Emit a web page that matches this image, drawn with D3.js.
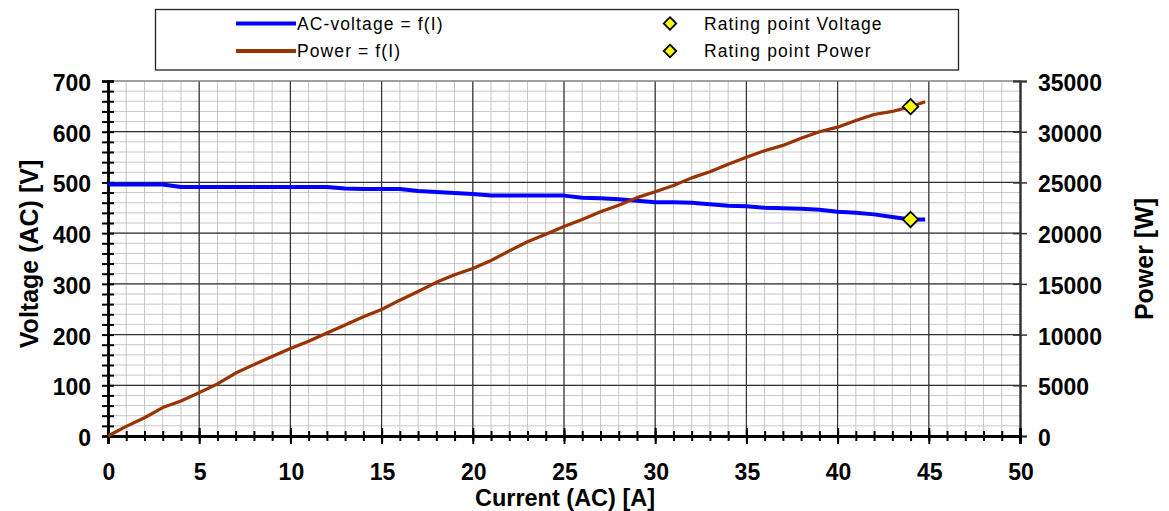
<!DOCTYPE html>
<html>
<head>
<meta charset="utf-8">
<script src="https://cdn.jsdelivr.net/npm/d3@7"></script>
<style>
  html, body { margin: 0; padding: 0; background: #fff; }
  svg { display: block; }
</style>
</head>
<body>
<svg id="chart" width="1169" height="511"></svg>
<script>
// Measured operating curve: AC current [A]
const current = [0, 1, 2, 3, 4, 5, 6, 7, 8, 9, 10, 11, 12, 13, 14, 15, 16, 17, 18, 19,
  20, 21, 22, 23, 24, 25, 26, 27, 28, 29, 30, 31, 32, 33, 34, 35, 36, 37, 38, 39,
  40, 41, 42, 43, 44, 44.8];
// AC voltage [V] at each current
const voltage = [496, 496, 496, 496, 491, 491, 491, 491, 491, 491, 491, 491, 491, 488, 487, 487,
  487, 483, 481, 479, 477, 474, 474, 474, 474, 474, 470, 469, 467, 464, 461, 461, 460, 457,
  454, 453, 450, 449, 448, 446, 442, 440, 437, 432, 427, 427];
// Output power [W] at each current
const power = [0, 950, 1800, 2800, 3450, 4280, 5130, 6210, 7040, 7830, 8620, 9350, 10150,
  10950, 11750, 12470, 13390, 14250, 15150, 15900, 16520, 17300, 18250, 19150, 19900, 20650,
  21350, 22100, 22750, 23500, 24080, 24700, 25450, 26060, 26800, 27480, 28130, 28650, 29350,
  30000, 30450, 31100, 31700, 32000, 32470, 32950];

// Rating point
const ratingCurrent = [44];
const ratingVoltage = [427];
const ratingPower = [32470];

// Axis ticks
const currentTicks = [0, 5, 10, 15, 20, 25, 30, 35, 40, 45, 50];
const voltageTicks = [0, 100, 200, 300, 400, 500, 600, 700];
const powerTicks = [0, 5000, 10000, 15000, 20000, 25000, 30000, 35000];

const legendLines = ["AC-voltage = f(I)", "Power = f(I)"];
const legendPoints = ["Rating point Voltage", "Rating point Power"];

const svg = d3.select("#chart");
const plotLeft = 108, plotRight = 1020, plotTop = 81, plotBottom = 436;

const x = d3.scaleLinear().domain([0, 50]).range([plotLeft, plotRight]);
const y = d3.scaleLinear().domain([0, 700]).range([plotBottom, plotTop]);
const y2 = d3.scaleLinear().domain([0, 35000]).range([plotBottom, plotTop]);

const blue = "#0000ff", brown = "#993300";
const tickFont = "'Liberation Sans', Arial, sans-serif";

// Minor grid
const grid = svg.append("g");
grid.selectAll(".vminor").data(d3.range(1, 50)).join("line")
  .attr("x1", d => x(d)).attr("x2", d => x(d))
  .attr("y1", plotTop).attr("y2", plotBottom)
  .attr("stroke", "#c6c6c6").attr("stroke-width", 1);
grid.selectAll(".hminor").data(d3.range(20, 700, 20)).join("line")
  .attr("x1", plotLeft).attr("x2", plotRight)
  .attr("y1", d => y(d)).attr("y2", d => y(d))
  .attr("stroke", "#c6c6c6").attr("stroke-width", 1);
// Major grid
grid.selectAll(".vmajor").data(currentTicks.slice(1, -1)).join("line")
  .attr("x1", d => x(d)).attr("x2", d => x(d))
  .attr("y1", plotTop).attr("y2", plotBottom)
  .attr("stroke", "#333").attr("stroke-width", 1.2);
grid.selectAll(".hmajor").data(voltageTicks.slice(1, -1)).join("line")
  .attr("x1", plotLeft).attr("x2", plotRight)
  .attr("y1", d => y(d)).attr("y2", d => y(d))
  .attr("stroke", "#333").attr("stroke-width", 1.2);
// Plot frame (top)
grid.append("line").attr("x1", plotLeft).attr("x2", plotRight).attr("y1", plotTop).attr("y2", plotTop)
  .attr("stroke", "#808080").attr("stroke-width", 1.5);

// Right axis (power)
const rAxis = svg.append("g").attr("transform", `translate(${plotRight},0)`);
rAxis.call(d3.axisRight(y2).tickValues(powerTicks).tickSize(7).tickFormat(""));
rAxis.append("g").call(d3.axisLeft(y2).tickValues(powerTicks).tickSize(7).tickFormat(""));
rAxis.selectAll("path").attr("stroke", "#333").attr("stroke-width", 2);
rAxis.selectAll("line").attr("stroke", "#333").attr("stroke-width", 1.5);

// Left axis (voltage) with crossing ticks
const minorV = d3.range(0, 701, 20);
const lAxis = svg.append("g").attr("transform", `translate(${plotLeft},0)`);
lAxis.call(d3.axisLeft(y).tickValues(minorV).tickSize(6).tickFormat(""));
lAxis.append("g").call(d3.axisRight(y).tickValues(minorV).tickSize(6).tickFormat(""));
lAxis.selectAll("path").attr("stroke", "#000").attr("stroke-width", 2.5);
lAxis.selectAll("line").attr("stroke", "#000").attr("stroke-width", 2);

// Bottom axis (current) with crossing ticks
const minorI = d3.range(0, 51, 1);
const bAxis = svg.append("g").attr("transform", `translate(0,${plotBottom})`);
bAxis.call(d3.axisBottom(x).tickValues(minorI).tickSize(5).tickFormat(""));
bAxis.append("g").call(d3.axisTop(x).tickValues(minorI).tickSize(5).tickFormat(""));
bAxis.append("g").call(d3.axisBottom(x).tickValues(currentTicks).tickSize(8).tickFormat(""));
bAxis.append("g").call(d3.axisTop(x).tickValues(currentTicks).tickSize(8).tickFormat(""));
bAxis.selectAll("path").attr("stroke", "#000").attr("stroke-width", 2.5);
bAxis.selectAll("line").attr("stroke", "#000").attr("stroke-width", 2);

// Tick labels
svg.append("g").selectAll("text").data(voltageTicks).join("text")
  .attr("x", 91).attr("y", d => y(d) + 10)
  .attr("text-anchor", "end")
  .attr("font-family", tickFont).attr("font-weight", "bold").attr("font-size", 23)
  .text(d => d);
svg.append("g").selectAll("text").data(powerTicks).join("text")
  .attr("x", 1038).attr("y", d => y2(d) + 10)
  .attr("text-anchor", "start")
  .attr("font-family", tickFont).attr("font-weight", "bold").attr("font-size", 23)
  .text(d => d);
svg.append("g").selectAll("text").data(currentTicks).join("text")
  .attr("x", d => x(d) + 1).attr("y", 479.5)
  .attr("text-anchor", "middle")
  .attr("font-family", tickFont).attr("font-weight", "bold").attr("font-size", 23)
  .text(d => d);

// Axis titles
svg.append("text")
  .attr("transform", "translate(38,254) rotate(-90)")
  .attr("text-anchor", "middle")
  .attr("font-family", tickFont).attr("font-weight", "bold").attr("font-size", 25)
  .text("Voltage (AC) [V]");
svg.append("text")
  .attr("transform", "translate(1153,259) rotate(-90)")
  .attr("text-anchor", "middle")
  .attr("font-family", tickFont).attr("font-weight", "bold").attr("font-size", 25)
  .text("Power [W]");
svg.append("text")
  .attr("x", 565).attr("y", 506)
  .attr("text-anchor", "middle")
  .attr("font-family", tickFont).attr("font-weight", "bold").attr("font-size", 23.5)
  .text("Current (AC) [A]");

// Curves
const rows = current.map((c, i) => ({ c, v: voltage[i], p: power[i] }));
svg.append("path").datum(rows)
  .attr("fill", "none").attr("stroke", blue).attr("stroke-width", 4)
  .attr("stroke-linejoin", "round")
  .attr("d", d3.line().x(d => x(d.c)).y(d => y(d.v)));
svg.append("path").datum(rows)
  .attr("fill", "none").attr("stroke", brown).attr("stroke-width", 3.2)
  .attr("stroke-linejoin", "round")
  .attr("d", d3.line().x(d => x(d.c)).y(d => y2(d.p)));

// Rating point markers
const diamond = d3.symbol().type(d3.symbolDiamond2);
const ratingPts = ratingCurrent.map((c, i) => [
  { px: x(c), py: y(ratingVoltage[i]) },
  { px: x(c), py: y2(ratingPower[i]) }
]).flat();
svg.append("g").selectAll("path").data(ratingPts).join("path")
  .attr("transform", d => `translate(${d.px},${d.py})`)
  .attr("d", diamond.size(150)())
  .attr("fill", "#ffff00").attr("stroke", "#000").attr("stroke-width", 1.8);

// Legend
const legend = svg.append("g");
legend.append("rect")
  .attr("x", 155.5).attr("y", 9.5).attr("width", 803).attr("height", 60.5)
  .attr("fill", "#fff").attr("stroke", "#222").attr("stroke-width", 1.3);
const legendFont = "'Liberation Sans', Arial, sans-serif";
const rowsY = [23.5, 51];
const lineColors = [blue, brown];
legend.selectAll(".ll").data(legendLines).join("line")
  .attr("x1", 236).attr("x2", 296)
  .attr("y1", (d, i) => rowsY[i]).attr("y2", (d, i) => rowsY[i])
  .attr("stroke", (d, i) => lineColors[i]).attr("stroke-width", 4);
legend.selectAll(".lt").data(legendLines).join("text")
  .attr("x", 297).attr("y", (d, i) => rowsY[i] + 6)
  .attr("font-family", legendFont).attr("font-size", 17.5)
  .attr("letter-spacing", 1.1)
  .text(d => d);
legend.selectAll(".pm").data(legendPoints).join("path")
  .attr("transform", (d, i) => `translate(670,${rowsY[i]})`)
  .attr("d", diamond.size(100)())
  .attr("fill", "#ffff00").attr("stroke", "#000").attr("stroke-width", 1.8);
legend.selectAll(".pt").data(legendPoints).join("text")
  .attr("x", 704).attr("y", (d, i) => rowsY[i] + 6)
  .attr("font-family", legendFont).attr("font-size", 17.5)
  .attr("letter-spacing", 1.1)
  .text(d => d);
</script>
</body>
</html>
